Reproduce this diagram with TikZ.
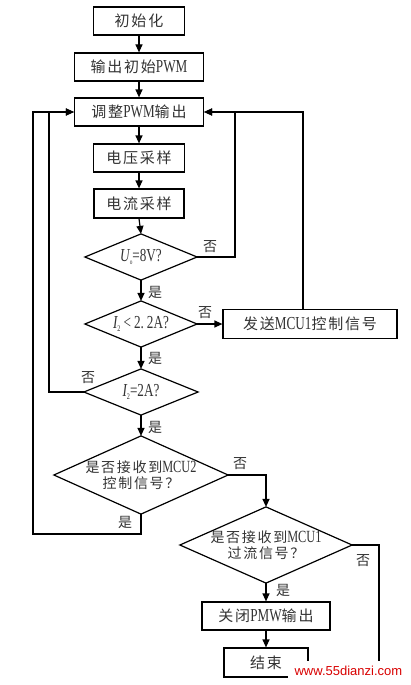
\documentclass[tikz,border=0pt]{standalone}
\usepackage{fontspec}
\setmainfont{Liberation Serif}[FakeStretch=0.72,Scale=1.22]
\newfontfamily\cjk[LetterSpace=12]{Noto Sans CJK SC}
\newfontfamily\wmfont{Liberation Sans}
\newcommand\zh[1]{{\cjk #1}}
\newcommand\drawdia[1]{\draw (#1.north) -- (#1.east) -- (#1.south) -- (#1.west) -- cycle;}
\usetikzlibrary{arrows.meta}
\begin{document}
\begin{tikzpicture}[x=1pt,y=-1pt,
  line width=1.2pt,
  every node/.style={text=black!80},
  box/.style={draw, rectangle, inner sep=0pt, font=\fontsize{15}{17}\selectfont},
  dia/.style={rectangle, inner sep=0pt, font=\fontsize{15}{17}\selectfont, align=center},
  lbl/.style={inner sep=0pt, font=\fontsize{14}{16}\selectfont\cjk},
  arr/.style={-{Triangle[length=8pt,width=7pt]}}
]
\useasboundingbox (0,0) rectangle (410,685);
\fill[white] (0,0) rectangle (410,685);

% main column
\node[box, minimum width=91, minimum height=28] (b1) at (139,21) {\zh{初始化}};
\node[box, minimum width=129, minimum height=28] (b2) at (139,67) {\zh{输出初始}PWM};
\node[box, minimum width=129, minimum height=28] (b3) at (139,112) {\zh{调整}PWM\zh{输出}};
\node[box, minimum width=91, minimum height=28] (b4) at (139,158) {\zh{电压采样}};
\node[box, minimum width=90, minimum height=29] (b5) at (139,203.5) {\zh{电流采样}};
\node[dia, minimum width=111, minimum height=45] (d1) at (141,257)
  {{\itshape U}\raisebox{-3pt}{\fontsize{6}{7}\selectfont o}=8V?};
\node[dia, minimum width=111, minimum height=45] (d2) at (141,324)
  {{\itshape I}\raisebox{-3pt}{\fontsize{7}{8}\selectfont 2}\,<\,2.\,2A?};
\node[dia, minimum width=113, minimum height=45] (d3) at (141,392)
  {{\itshape I}\raisebox{-3pt}{\fontsize{7}{8}\selectfont 2}=2A?};
\node[dia, minimum width=173, minimum height=77, font=\fontsize{14}{16}\selectfont] (d4) at (141,475)
  {\zh{是否接收到}MCU2\\\zh{控制信号？}};
\node[box, minimum width=174, minimum height=29] (b8) at (310,324) {\zh{发送}MCU1\zh{控制信号}};

% right column
\node[dia, minimum width=171, minimum height=75, font=\fontsize{14}{16}\selectfont] (d5) at (266,545)
  {\zh{是否接收到}MCU1\\\zh{过流信号？}};
\node[box, minimum width=128, minimum height=28] (b6) at (266,616) {\zh{关闭}PMW\zh{输出}};
\node[box, minimum width=84, minimum height=29] (b7) at (266,662.5) {\zh{结束}};

\drawdia{d1}
\drawdia{d2}
\drawdia{d3}
\drawdia{d4}
\drawdia{d5}

% helper coordinates
\coordinate (rin) at (235,0);
\coordinate (rout) at (303,0);
\coordinate (lin) at (49,0);
\coordinate (lout) at (33,0);
\coordinate (d4b) at (141,534);
\coordinate (d5end) at (379,668);

% connectors
\draw[arr] (b1.south) -- (b2.north);
\draw[arr] (b2.south) -- (b3.north);
\draw[arr] (b3.south) -- (b4.north);
\draw[arr] (b4.south) -- (b5.north);
\draw[arr] (b5.south) -- (d1.north);
\draw[arr] (d1.south) -- (d2.north);
\draw[arr] (d2.south) -- (d3.north);
\draw[arr] (d3.south) -- (d4.north);
\draw[arr] (d2.east) -- (b8.west);
\draw[arr] (d1.east) -| (rin |- b3.east) -- (b3.east);
\draw[arr] (rout |- b8.north) -- (rout |- b3.east) -- (b3.east);
\draw[arr] (d3.west) -| (lin |- b3.west) -- (b3.west);
\draw[arr] (d4.south) -- (d4b) -| (lout |- b3.west) -- (b3.west);
\draw[arr] (d4.east) -| (d5.north);
\draw[arr] (d5.south) -- (b6.north);
\draw[arr] (b6.south) -- (b7.north);
\draw (d5.east) -| (d5end);

% branch labels
\node[lbl] (n1) at (210,247) {否};
\node[lbl] (y1) at (155,292) {是};
\node[lbl] (n2) at (205,313) {否};
\node[lbl] (y2) at (155,358) {是};
\node[lbl] (n3) at (88,378) {否};
\node[lbl] (y3) at (155,427) {是};
\node[lbl] (n4) at (240,464) {否};
\node[lbl] (y4) at (125,522) {是};
\node[lbl] (n5) at (363,561) {否};
\node[lbl] (y5) at (283,590) {是};

% watermark
\fill[white] (288,661) rectangle (410,685);
\node[inner sep=0pt, anchor=west, text=red!85!black, font=\fontsize{13}{14}\selectfont\wmfont] (wm) at (294,671) {www.55dianzi.com};
\end{tikzpicture}
\end{document}
